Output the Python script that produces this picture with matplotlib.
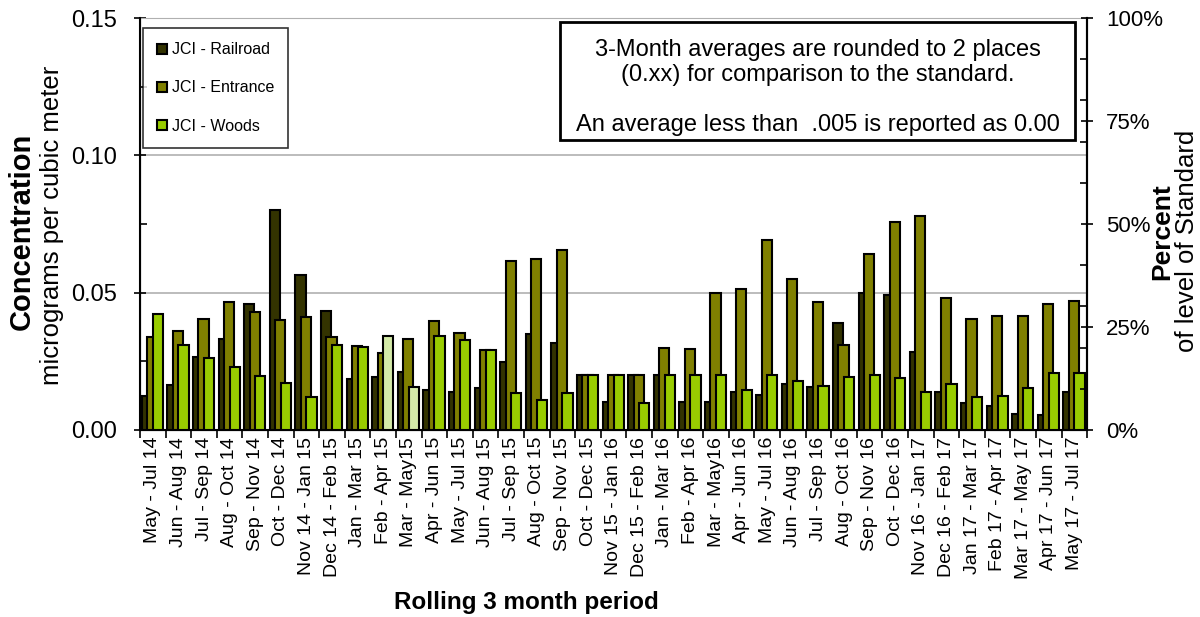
import numpy as np
import matplotlib.pyplot as plt
from matplotlib.patches import Rectangle
from matplotlib.ticker import MultipleLocator

plt.rcParams['font.family'] = ['Liberation Sans', 'DejaVu Sans']

periods = [
    'May - Jul 14', 'Jun - Aug 14', 'Jul - Sep 14', 'Aug - Oct 14', 'Sep - Nov 14',
    'Oct - Dec 14', 'Nov 14 - Jan 15', 'Dec 14 - Feb 15', 'Jan - Mar 15', 'Feb - Apr 15',
    'Mar - May15', 'Apr - Jun 15', 'May - Jul 15', 'Jun - Aug 15', 'Jul - Sep 15',
    'Aug - Oct 15', 'Sep - Nov 15', 'Oct - Dec 15', 'Nov 15 - Jan 16', 'Dec 15 - Feb 16',
    'Jan - Mar 16', 'Feb - Apr 16', 'Mar - May16', 'Apr - Jun 16', 'May - Jul 16',
    'Jun - Aug 16', 'Jul - Sep 16', 'Aug - Oct 16', 'Sep - Nov 16', 'Oct - Dec 16',
    'Nov 16 - Jan 17', 'Dec 16 - Feb 17', 'Jan 17 - Mar 17', 'Feb 17 - Apr 17',
    'Mar 17 - May 17', 'Apr 17 - Jun 17', 'May 17 - Jul 17',
]

railroad = [0.0124, 0.0162, 0.0266, 0.0332, 0.0457, 0.0800, 0.0565, 0.0433, 0.0185, 0.0194,
            0.0210, 0.0144, 0.0138, 0.0152, 0.0248, 0.0350, 0.0317, 0.0200, 0.0101, 0.0200,
            0.0200, 0.0101, 0.0101, 0.0138, 0.0128, 0.0166, 0.0157, 0.0388, 0.0499, 0.0491,
            0.0284, 0.0137, 0.0098, 0.0088, 0.0059, 0.0055, 0.0138]
entrance = [0.0339, 0.0362, 0.0405, 0.0466, 0.0429, 0.0400, 0.0410, 0.0339, 0.0306, 0.0279,
            0.0330, 0.0396, 0.0354, 0.0293, 0.0617, 0.0622, 0.0655, 0.0200, 0.0200, 0.0200,
            0.0298, 0.0296, 0.0499, 0.0512, 0.0693, 0.0551, 0.0466, 0.0311, 0.0639, 0.0757,
            0.0780, 0.0480, 0.0405, 0.0416, 0.0416, 0.0457, 0.0470]
woods = [0.0423, 0.0311, 0.0263, 0.0230, 0.0198, 0.0171, 0.0120, 0.0311, 0.0301, 0.0344,
         0.0156, 0.0344, 0.0329, 0.0293, 0.0133, 0.0110, 0.0133, 0.0200, 0.0200, 0.0098,
         0.0200, 0.0200, 0.0200, 0.0146, 0.0200, 0.0180, 0.0161, 0.0193, 0.0200, 0.0189,
         0.0137, 0.0166, 0.0120, 0.0124, 0.0152, 0.0207, 0.0207]

standard = 0.15  # 100% of level of standard

c_rail = '#333300'
c_ent = '#808000'
c_woods = '#99cc00'
woods_colors = [c_woods] * len(woods)
woods_colors[9] = '#d4eaa8'
woods_colors[10] = '#d4eaa8'

fig = plt.figure(figsize=(12, 6.17), dpi=100)
ax = fig.add_axes([0.1167, 0.3031, 0.7893, 0.6677])

x = np.arange(len(periods))
w = 0.4
ax.bar(x - 0.23, railroad, w, color=c_rail, edgecolor='black', linewidth=1.5,
       label='JCI - Railroad', zorder=3)
ax.bar(x - 0.02, entrance, w, color=c_ent, edgecolor='black', linewidth=1.5,
       label='JCI - Entrance', zorder=4)
ax.bar(x + 0.20, woods, w, color=woods_colors, edgecolor='black', linewidth=1.5,
       label='JCI - Woods', zorder=5)

ax.set_xlim(-0.5, len(periods) - 0.5)
ax.set_ylim(0, standard)
ax.set_yticks([0, 0.05, 0.10, 0.15])
ax.set_yticklabels(['0.00', '0.05', '0.10', '0.15'], fontsize=17)
ax.yaxis.set_minor_locator(MultipleLocator(0.025))
ax.tick_params(axis='y', which='major', direction='inout', length=9, width=1.2, pad=12)
ax.tick_params(axis='y', which='minor', direction='in', length=5, width=1.2)
ax.grid(axis='y', color='#b0b0b0', linewidth=1.2, zorder=0)

ax.set_xticks(x)
ax.set_xticklabels(periods, rotation=90, fontsize=14)
ax.set_xticks(np.arange(len(periods) + 1) - 0.5, minor=True)
ax.tick_params(axis='x', which='major', length=0, pad=5)
ax.tick_params(axis='x', which='minor', direction='out', length=6, width=1.2)

for side in ['left', 'bottom', 'right']:
    ax.spines[side].set_linewidth(1.5)
ax.spines['top'].set_color('#b0b0b0')

ax2 = ax.twinx()
ax2.set_ylim(0, 100)
ax2.set_yticks([0, 25, 50, 75, 100])
ax2.set_yticklabels(['0%', '25%', '50%', '75%', '100%'], fontsize=16)
ax2.yaxis.set_minor_locator(MultipleLocator(10))
ax2.tick_params(axis='y', which='major', direction='inout', length=9, width=1.2, pad=9)
ax2.tick_params(axis='y', which='minor', direction='in', length=5, width=1.2)
ax2.spines['right'].set_linewidth(1.5)
ax2.spines['top'].set_visible(False)

leg = ax.legend(loc='upper left', bbox_to_anchor=(0.003, 0.976), fontsize=11.5,
                frameon=True, fancybox=False, edgecolor='black', handlelength=0.6,
                handleheight=0.6, handletextpad=0.3, labelspacing=1.45,
                borderpad=0.9, borderaxespad=0)
leg.get_frame().set_linewidth(1.2)
leg.set_zorder(10)

ax.add_patch(Rectangle((0.4435, 0.704), 0.5438, 0.286, transform=ax.transAxes,
                       facecolor='white', edgecolor='black', linewidth=2, zorder=10))
ax.text(0.7154, 0.832,
        '3-Month averages are rounded to 2 places\n(0.xx) for comparison to the standard.\n\n'
        'An average less than  .005 is reported as 0.00',
        transform=ax.transAxes, ha='center', va='center', fontsize=17,
        linespacing=1.17, zorder=11)

fig.text(0.018, 0.625, 'Concentration', rotation=90, ha='center', va='center',
         fontsize=21, fontweight='bold')
fig.text(0.043, 0.635, 'micrograms per cubic meter', rotation=90, ha='center',
         va='center', fontsize=18.5)
fig.text(0.9685, 0.625, 'Percent', rotation=90, ha='center', va='center',
         fontsize=19, fontweight='bold')
fig.text(0.9895, 0.61, 'of level of Standard', rotation=90, ha='center',
         va='center', fontsize=18.5)
fig.text(0.439, 0.023, 'Rolling 3 month period', ha='center', va='center',
         fontsize=17.5, fontweight='bold')

fig.savefig('out.png', dpi=100)
